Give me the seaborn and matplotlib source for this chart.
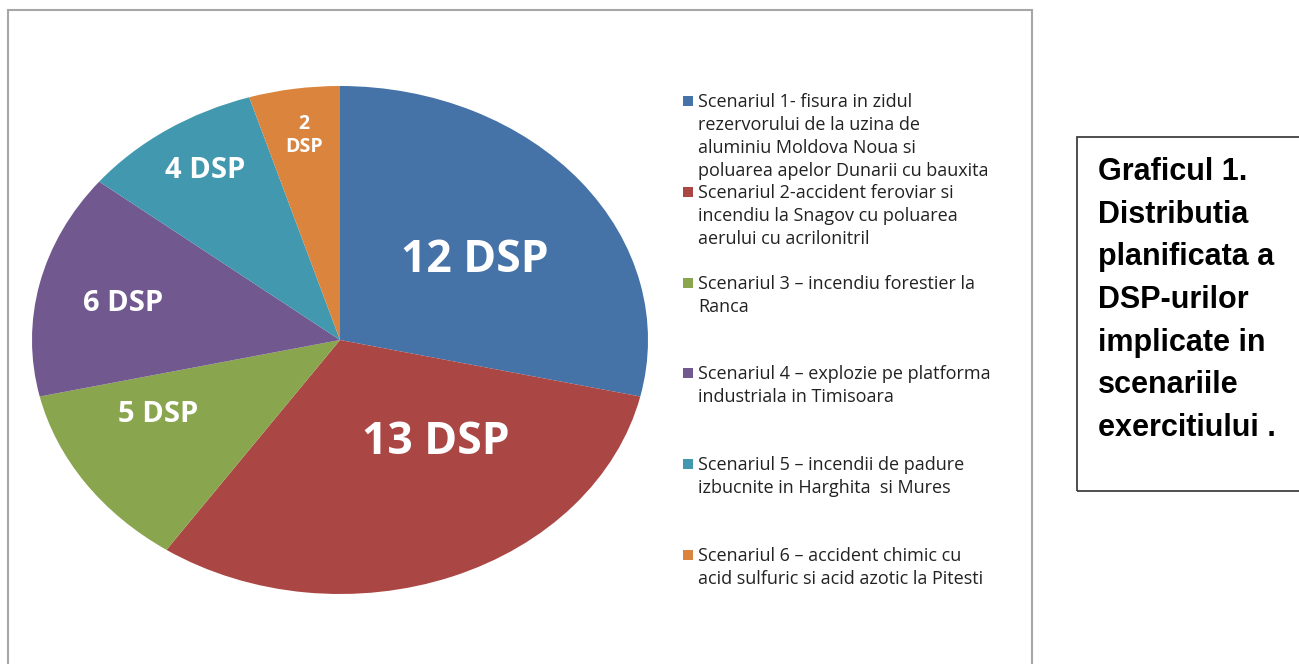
import matplotlib
matplotlib.use("Agg")
import matplotlib.pyplot as plt
from matplotlib.patches import Rectangle
import seaborn as sns
import numpy as np

# data
scenarii = [
    "Scenariul 1- fisura in zidul\nrezervorului de la uzina de\naluminiu Moldova Noua si\npoluarea apelor Dunarii cu bauxita",
    "Scenariul 2-accident feroviar si\nincendiu la Snagov cu poluarea\naerului cu acrilonitril",
    "Scenariul 3 \u2013 incendiu forestier la\nRanca",
    "Scenariul 4 \u2013 explozie pe platforma\nindustriala in Timisoara",
    "Scenariul 5 \u2013 incendii de padure\nizbucnite in Harghita  si Mures",
    "Scenariul 6 \u2013 accident chimic cu\nacid sulfuric si acid azotic la Pitesti",
]
dsp = [12, 13, 5, 6, 4, 2]
slice_labels = ["12 DSP", "13 DSP", "5 DSP", "6 DSP", "4 DSP", "2\nDSP"]
caption = "Graficul 1.\nDistributia\nplanificata a\nDSP-urilor\nimplicate in\nscenariile\nexercitiului ."

# look of the slice labels (position in pie units, font size)
label_radius = [0.54, 0.51, 0.66, 0.72, 0.80, 0.815]
label_angle_shift = [-3.0, 16.0, -7.9, 1.2, -1.0, -0.3]
label_size = [32, 32, 21, 21, 21, 14]

sns.set_theme(style="white")
plt.rcParams["font.family"] = ["Open Sans", "DejaVu Sans"]
colors = sns.color_palette(["#4572A7", "#AA4643", "#89A54E", "#71588F", "#4198AF", "#DB843D"])

W, H = 1299, 664
fig = plt.figure(figsize=(W / 100, H / 100), dpi=100)
fig.patch.set_facecolor("white")

# outer chart frame
fig.add_artist(Rectangle((8 / W, -0.02), (1032 - 8) / W, 1.02 - 10 / H,
                         transform=fig.transFigure, fill=False,
                         edgecolor="#a6a6a6", lw=1.5))

# pie (stretched into an ellipse like the original)
ax = fig.add_axes([32 / W, (H - 594) / H, 616 / W, 508 / H])
wedges, _ = ax.pie(dsp, colors=colors, startangle=90, counterclock=False,
                   wedgeprops=dict(linewidth=0))
ax.set_aspect("auto")
ax.set_xlim(-1, 1)
ax.set_ylim(-1, 1)
ax.axis("off")

for w, lab, r, da, fs in zip(wedges, slice_labels, label_radius, label_angle_shift, label_size):
    mid = np.deg2rad((w.theta1 + w.theta2) / 2 + da)
    ax.text(r * np.cos(mid), r * np.sin(mid), lab, color="white", fontsize=fs,
            fontweight="bold", ha="center", va="center", linespacing=1.2)

# legend drawn by hand: one entry every ~90 px
for i, (txt, c) in enumerate(zip(scenarii, colors)):
    y = 101 + i * 90.8
    fig.add_artist(Rectangle((683 / W, 1 - (y + 5) / H), 10 / W, 10 / H,
                             transform=fig.transFigure, color=c, lw=0))
    fig.text(698 / W, 1 - (y - 8) / H, txt, fontsize=13, color="#222222",
             va="top", ha="left", linespacing=1.36)

# caption box on the right
fig.add_artist(Rectangle((1077 / W, 1 - 491 / H), 240 / W, (491 - 137) / H,
                         transform=fig.transFigure, fill=False,
                         edgecolor="#404040", lw=1.3))
fig.text(1098 / W, 1 - 157 / H, caption, fontsize=22, fontweight="bold",
         family=["Liberation Sans", "DejaVu Sans"], color="black",
         va="top", ha="left", linespacing=1.55)

fig.savefig("out.png", dpi=100)
